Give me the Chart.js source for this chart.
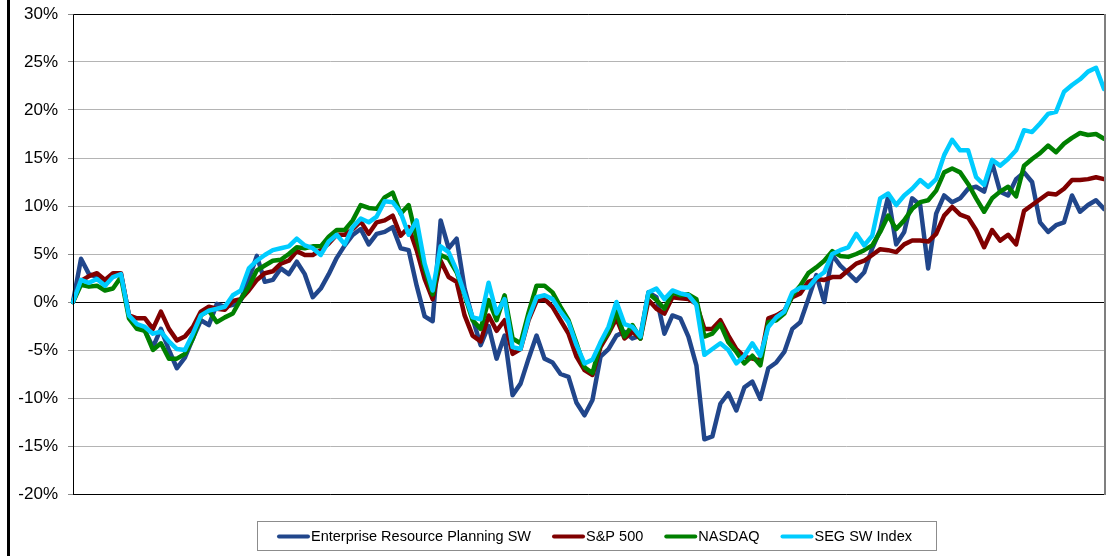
<!DOCTYPE html>
<html>
<head>
<meta charset="utf-8">
<script src="https://cdn.jsdelivr.net/npm/chart.js@4.4.1/dist/chart.umd.min.js"></script>
<style>
  html, body { margin: 0; padding: 0; background: #fff; }
  #wrap { width: 1109px; height: 556px; position: relative; }
</style>
</head>
<body>
<div id="wrap"><canvas id="perfChart"></canvas></div>
<script>
// cumulative change, %
const erp = [
  0, 4.5, 2.9, 2.6, 1.7, 2.9, 2.9, -1.4, -2.6, -3.0,
  -4.7, -2.8, -5.0, -6.9, -5.8, -3.8, -1.9, -2.4, -0.2, -0.5,
  -0.3, 0.2, 2.4, 4.8, 2.1, 2.3, 3.5, 2.9, 4.2, 2.9,
  0.5, 1.4, 2.9, 4.6, 5.9, 7.0, 7.6, 6.0, 7.1, 7.3,
  7.8, 5.6, 5.4, 1.7, -1.5, -2.0, 8.5, 5.6, 6.6, 1.4,
  -1.7, -4.5, -2.5, -5.9, -3.5, -9.7, -8.5, -5.9, -3.5, -5.9,
  -6.3, -7.5, -7.8, -10.5, -11.8, -10.2, -5.7, -4.9, -3.5, -3.1,
  -3.8, -3.5, 1.0, 0.5, -3.3, -1.4, -1.7, -3.6, -6.6, -14.3,
  -14.0, -10.6, -9.5, -11.3, -8.9, -8.3, -10.1, -6.9, -6.3, -5.2,
  -2.8, -2.1, 0.3, 2.8, 0.0, 4.9, 3.8, 3.0, 2.2, 3.1,
  5.6, 7.5, 11.0, 6.0, 7.3, 10.8, 10.1, 3.5, 9.2, 11.1,
  10.4, 10.8, 11.8, 12.0, 11.5, 14.5, 11.5, 11.1, 12.8, 13.5,
  12.5, 8.3, 7.3, 8.0, 8.3, 11.1, 9.4, 10.1, 10.6, 9.7
];
const sp500 = [
  0, 2.2, 2.7, 3.0, 2.3, 3.0, 3.0, -1.4, -1.7, -1.7,
  -2.8, -1.0, -2.8, -4.0, -3.6, -2.6, -1.0, -0.5, -0.7, -0.8,
  0.1, 0.3, 1.2, 2.3, 3.0, 3.2, 4.0, 4.3, 5.3, 4.9,
  4.9, 5.4, 6.1, 7.0, 7.0, 7.6, 8.4, 7.1, 8.3, 8.5,
  9.0, 6.9, 7.8, 5.4, 2.4, 0.3, 4.3, 2.6, 2.1, -1.4,
  -3.5, -4.1, -1.4, -3.0, -1.9, -5.4, -4.9, -1.9, 0.1, 0.3,
  -0.5, -1.9, -3.3, -5.7, -7.1, -7.6, -4.7, -3.3, -1.7, -3.8,
  -3.1, -3.8, 0.2, -0.7, -1.2, 0.5, 0.4, 0.3, -0.2, -2.8,
  -2.8, -1.9, -3.5, -4.9, -5.7, -5.9, -6.1, -1.7, -1.4, -0.9,
  0.5, 0.9, 2.1, 2.4, 2.3, 2.6, 2.6, 3.3, 4.0, 4.3,
  4.9, 5.5, 5.4, 5.2, 6.0, 6.4, 6.4, 6.3, 7.1, 9.0,
  9.9, 9.1, 8.8, 7.5, 5.7, 7.5, 6.4, 7.0, 6.0, 9.5,
  10.1, 10.7, 11.3, 11.2, 11.8, 12.7, 12.7, 12.8, 13.0, 12.8
];
const nasdaq = [
  0, 1.8, 1.6, 1.7, 1.2, 1.4, 2.6, -1.7, -2.8, -3.0,
  -5.0, -4.3, -5.9, -5.9, -5.4, -3.8, -1.4, -0.9, -2.1, -1.6,
  -1.2, 0.3, 1.6, 3.3, 3.8, 4.3, 4.4, 5.0, 5.7, 5.6,
  5.8, 5.8, 6.8, 7.5, 7.5, 8.5, 10.1, 9.8, 9.7, 10.9,
  11.4, 9.2, 10.1, 6.6, 3.5, 0.8, 4.9, 4.5, 3.1, 0.7,
  -1.9, -2.8, 0.2, -1.9, 0.7, -3.8, -4.3, -1.1, 1.7, 1.7,
  1.0, -0.5, -1.9, -4.3, -6.8, -7.4, -4.3, -3.2, -1.0, -3.6,
  -2.4, -3.8, 0.9, 0.2, -0.7, 1.0, 0.7, 0.8, 0.3, -3.6,
  -3.3, -2.3, -4.2, -5.2, -6.4, -5.6, -6.6, -2.1, -1.9, -1.2,
  0.7, 1.7, 3.0, 3.6, 4.3, 5.3, 4.8, 4.7, 5.0, 5.4,
  5.9, 7.3, 9.0, 7.6, 8.5, 9.7, 10.4, 10.6, 11.6, 13.5,
  13.9, 13.5, 12.3, 10.8, 9.4, 10.8, 11.5, 12.0, 11.0, 14.2,
  14.9, 15.5, 16.3, 15.6, 16.5, 17.1, 17.6, 17.4, 17.5, 17.0
];
const segIndex = [
  0, 2.3, 2.0, 2.4, 1.7, 2.6, 2.9, -1.4, -2.3, -2.6,
  -3.3, -3.1, -4.1, -4.9, -5.0, -3.3, -1.4, -0.9, -0.7, -0.5,
  0.7, 1.2, 3.5, 4.3, 4.9, 5.4, 5.6, 5.8, 6.6, 5.9,
  5.6, 4.9, 6.3, 7.0, 6.0, 7.8, 8.7, 8.3, 8.9, 10.5,
  10.4, 9.3, 7.0, 8.5, 4.0, 1.2, 5.8, 5.2, 3.3, 0.8,
  -1.6, -1.8, 2.0, -1.2, 0.3, -4.7, -4.9, -1.7, 0.5, 0.7,
  0.3, -1.0, -2.1, -4.5, -6.4, -6.0, -4.2, -2.6, 0.0, -2.3,
  -2.6, -3.6, 1.0, 1.4, 0.3, 1.2, 0.9, 0.7, -0.3, -5.5,
  -4.9, -4.3, -5.0, -6.4, -5.6, -4.3, -5.6, -2.6, -1.6, -1.0,
  1.0, 1.5, 1.5, 2.5, 3.1, 5.0, 5.4, 5.7, 7.1, 5.9,
  6.9, 10.8, 11.3, 10.1, 11.1, 11.8, 12.7, 12.0, 12.8, 15.3,
  16.9, 15.8, 15.8, 13.0, 12.2, 14.8, 14.2, 14.9, 15.8, 17.9,
  17.7, 18.6, 19.6, 19.8, 21.9, 22.6, 23.2, 24.0, 24.4, 22.2
];

const seriesNames = ['Enterprise Resource Planning SW', 'S&P 500', 'NASDAQ', 'SEG SW Index'];
const seriesColors = ['#21468B', '#800000', '#008000', '#00CCFF'];
const yMin = -20;
const yMax = 30;
const yStep = 5;

const periods = erp.map((_, i) => i + 1);
const FONT = '"Liberation Sans", Arial, sans-serif';

// marco del gráfico, borde del área y leyenda con recuadro
const frameAndLegend = {
  id: 'frameAndLegend',
  beforeDraw(chart) {
    const ctx = chart.ctx;
    ctx.save();
    ctx.fillStyle = '#fff';
    ctx.fillRect(0, 0, chart.width, chart.height);
    ctx.restore();
  },
  afterDraw(chart) {
    const { ctx, chartArea: a } = chart;
    ctx.save();

    ctx.strokeStyle = '#000';
    ctx.lineWidth = 1;
    ctx.beginPath();
    ctx.moveTo(a.left + 0.5, a.bottom + 0.5);
    ctx.lineTo(a.left + 0.5, a.top + 0.5);
    ctx.lineTo(a.right, a.top + 0.5);
    ctx.moveTo(a.left, a.bottom + 0.5);
    ctx.lineTo(a.right, a.bottom + 0.5);
    ctx.stroke();

    ctx.strokeStyle = '#7f7f7f';
    ctx.lineWidth = 2;
    ctx.beginPath();
    ctx.moveTo(a.right + 1, a.top);
    ctx.lineTo(a.right + 1, a.bottom + 1);
    ctx.stroke();

    ctx.fillStyle = '#000';
    ctx.fillRect(7, 0, 3, chart.height);

    // leyenda
    const box = { left: 257, top: 521, width: 679, height: 29 };
    ctx.strokeStyle = '#8c8c8c';
    ctx.lineWidth = 1;
    ctx.strokeRect(box.left + 0.5, box.top + 0.5, box.width, box.height);
    ctx.font = '14.5px ' + FONT;
    ctx.textBaseline = 'middle';
    const y = box.top + box.height / 2 + 1;
    let x = box.left + 20;
    seriesNames.forEach((name, i) => {
      ctx.strokeStyle = seriesColors[i];
      ctx.lineWidth = 4;
      ctx.lineCap = 'round';
      ctx.beginPath();
      ctx.moveTo(x + 2, y);
      ctx.lineTo(x + 31, y);
      ctx.stroke();
      x += 34;
      ctx.fillStyle = '#000';
      ctx.fillText(name, x, y);
      x += ctx.measureText(name).width + 21;
    });
    ctx.restore();
  }
};

const allSeries = [erp, sp500, nasdaq, segIndex];
const datasets = allSeries.map((values, i) => ({
  label: seriesNames[i],
  data: values,
  borderColor: seriesColors[i],
  backgroundColor: seriesColors[i],
  borderWidth: 4.5,
  pointRadius: 0,
  tension: 0,
  borderJoinStyle: 'round',
  borderCapStyle: 'round',
  order: allSeries.length - 1 - i // la última serie queda encima
}));

new Chart(document.getElementById('perfChart'), {
  type: 'line',
  data: { labels: periods, datasets: datasets },
  options: {
    responsive: true,
    maintainAspectRatio: false,
    animation: false,
    layout: { padding: { top: 14, right: 5, bottom: 62, left: 0 } },
    plugins: {
      legend: { display: false },
      tooltip: { enabled: false },
      title: { display: false }
    },
    scales: {
      x: { display: false },
      y: {
        min: yMin,
        max: yMax,
        afterFit(scale) {
          scale.width = 73;
          scale.paddingTop = 0;
          scale.paddingBottom = 0;
        },
        border: { display: false },
        grid: {
          color: c => (c.tick && c.tick.value === 0) ? '#000' : '#b4b4b4',
          lineWidth: 1,
          tickLength: 5,
          tickColor: '#8c8c8c'
        },
        ticks: {
          stepSize: yStep,
          padding: 10,
          color: '#000',
          font: { family: FONT, size: 17 },
          callback: v => v + '%'
        }
      }
    }
  },
  plugins: [frameAndLegend]
});
</script>
</body>
</html>
